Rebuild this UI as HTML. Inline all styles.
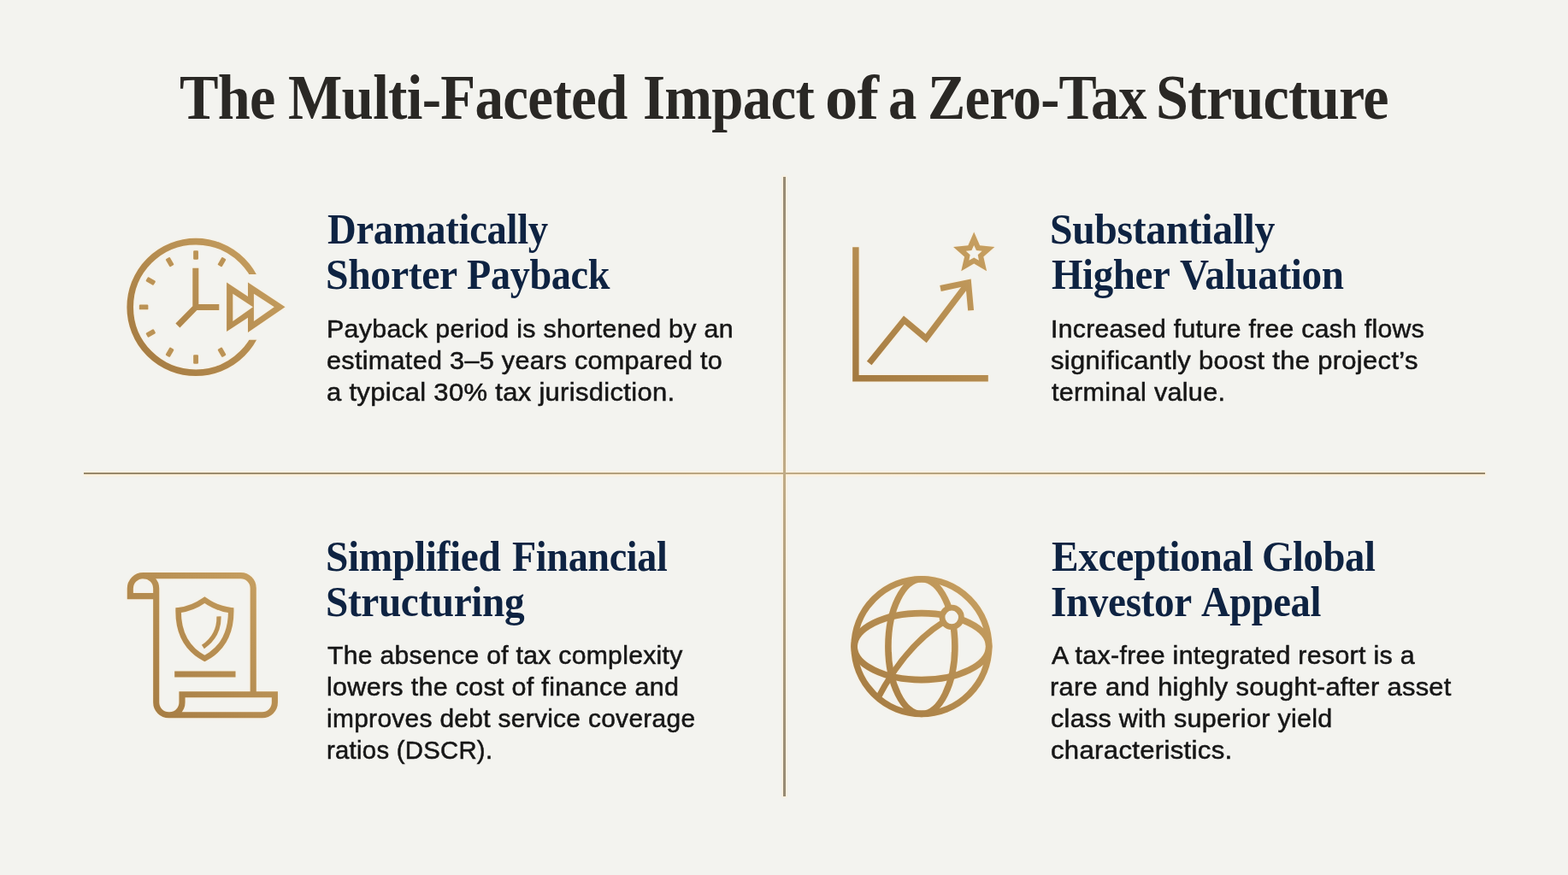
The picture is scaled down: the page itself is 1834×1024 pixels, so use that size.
<!DOCTYPE html>
<html lang="en">
<head>
<meta charset="utf-8">
<title>The Multi-Faceted Impact of a Zero-Tax Structure</title>
<style>
html,body{margin:0;padding:0;background:#f3f3ef}
body{width:1834px;height:1024px;overflow:hidden;position:relative;background:#f3f3ef}
.t{position:absolute;left:0;width:1834px;white-space:nowrap;line-height:1;margin:0;padding:0}
.t span{position:absolute;top:0;transform-origin:0 0;white-space:nowrap}
.ktitle{font-family:"Liberation Serif", serif;font-weight:bold;font-size:74px;height:74px;letter-spacing:-0.8px;color:#2a2825;}
.kh{font-family:"Liberation Serif", serif;font-weight:bold;font-size:51.5px;height:51.5px;letter-spacing:-0.4px;color:#0e2342;}
.kb{font-family:"Liberation Sans", sans-serif;font-weight:normal;font-size:30px;height:30px;letter-spacing:0.3px;color:#161616;-webkit-text-stroke:0.55px #161616;}
.vl{position:absolute;left:916.3px;top:206.8px;width:2.25px;height:725px;background:linear-gradient(to bottom,#968a74 0%,#ad9c7c 28%,#c0ab86 48%,#ad9c7c 72%,#968a74 100%);filter:blur(0.45px)}
.vg{position:absolute;left:914.9px;top:206px;width:5.1px;height:726.6px;background:rgba(255,238,210,0.9);filter:blur(0.9px)}
.hl{position:absolute;left:98.3px;top:553.35px;width:1638.5px;height:1.9px;background:linear-gradient(to right,#96876a 0%,#a39374 25%,#c0ab86 49%,#aa9a79 75%,#96876c 100%);filter:blur(0.45px)}
.hg{position:absolute;left:97.5px;top:551.9px;width:1640.1px;height:4.8px;background:rgba(255,238,210,0.9);filter:blur(0.9px)}
svg.ic{position:absolute;left:0;top:0;filter:drop-shadow(0 0 1px rgba(255,236,205,0.95))}
</style>
</head>
<body>
<div class="vg"></div>
<div class="hg"></div>
<div class="vl"></div>
<div class="hl"></div>
<svg class="ic" width="1834" height="1024" viewBox="0 0 1834 1024">
<defs>
<linearGradient id="g1" gradientUnits="userSpaceOnUse" x1="150" y1="440" x2="330" y2="280"><stop offset="0" stop-color="#a2783f"/><stop offset="1" stop-color="#c9a263"/></linearGradient>
<linearGradient id="g2" gradientUnits="userSpaceOnUse" x1="995" y1="450" x2="1165" y2="270"><stop offset="0" stop-color="#a2783f"/><stop offset="1" stop-color="#c9a263"/></linearGradient>
<linearGradient id="g3" gradientUnits="userSpaceOnUse" x1="148" y1="840" x2="326" y2="670"><stop offset="0" stop-color="#a2783f"/><stop offset="1" stop-color="#c9a263"/></linearGradient>
<linearGradient id="g4" gradientUnits="userSpaceOnUse" x1="995" y1="840" x2="1160" y2="675"><stop offset="0" stop-color="#a2783f"/><stop offset="1" stop-color="#c9a263"/></linearGradient>
<clipPath id="c1"><path clip-rule="evenodd" d="M140 270 H340 V450 H140 Z M229 321.1 V397.8 H340 V321.1 Z"/></clipPath>
<clipPath id="c4"><circle cx="1077.9" cy="756.6" r="80"/></clipPath>
</defs>
<g fill="none" stroke="url(#g1)">
<circle cx="229.05" cy="359.45" r="76.85" stroke-width="7.6" clip-path="url(#c1)"/>
<path d="M228.8 313.8 V359.6 H256.3 M228.8 359.6 L207.9 381" stroke-width="7" stroke-linejoin="miter"/>
</g>
<g fill="url(#g1)">
<rect x="226.15" y="293.25" width="5.8" height="10.5" rx="1.2" transform="rotate(0 229.05 359.45)"/>
<rect x="226.15" y="293.25" width="5.8" height="10.5" rx="1.2" transform="rotate(30 229.05 359.45)"/>
<rect x="226.15" y="293.25" width="5.8" height="10.5" rx="1.2" transform="rotate(150 229.05 359.45)"/>
<rect x="226.15" y="293.25" width="5.8" height="10.5" rx="1.2" transform="rotate(180 229.05 359.45)"/>
<rect x="226.15" y="293.25" width="5.8" height="10.5" rx="1.2" transform="rotate(210 229.05 359.45)"/>
<rect x="226.15" y="293.25" width="5.8" height="10.5" rx="1.2" transform="rotate(240 229.05 359.45)"/>
<rect x="226.15" y="293.25" width="5.8" height="10.5" rx="1.2" transform="rotate(270 229.05 359.45)"/>
<rect x="226.15" y="293.25" width="5.8" height="10.5" rx="1.2" transform="rotate(300 229.05 359.45)"/>
<rect x="226.15" y="293.25" width="5.8" height="10.5" rx="1.2" transform="rotate(330 229.05 359.45)"/>
<path fill-rule="evenodd" d="M265.1 330.5 L290 347 V330.5 L333.5 359.3 L290 389.1 V371.7 L265.1 388.1 Z M272.3 343.7 L295.9 359.3 L272.3 375.9 Z M296.9 343.7 L320.8 359.3 L296.9 375.9 Z"/>
</g>
<g fill="none" stroke="url(#g2)">
<path d="M1000.9 289.3 V442.8 H1155.8" stroke-width="7.4"/>
<path d="M1016.7 425 L1057.5 374.6 L1083.1 396.1 L1131.5 332.3" stroke-width="7.2"/>
<path d="M1100 337.5 L1132.6 330.7 L1135.6 363.2" stroke-width="6.9"/>
</g>
<path fill="url(#g2)" fill-rule="evenodd" d="M1139.20 271.40 L1146.07 287.35 L1163.36 288.95 L1150.31 300.41 L1154.13 317.35 L1139.20 308.48 L1124.27 317.35 L1128.09 300.41 L1115.04 288.95 L1132.33 287.35 Z M1139.20 286.90 L1141.99 292.96 L1148.62 293.74 L1143.72 298.27 L1145.02 304.81 L1139.20 301.55 L1133.38 304.81 L1134.68 298.27 L1129.78 293.74 L1136.41 292.96 Z"/>
<g fill="none" stroke="url(#g3)" stroke-width="7.1">
<path stroke-linejoin="miter" d="M182.7 697.6 H152.3 V688.8 A15.2 15.2 0 0 1 167.5 673.6 H281.6 A14.6 14.6 0 0 1 296.2 688.2 V812.8"/>
<path d="M167.5 673.6 A15.2 15.2 0 0 1 182.7 688.8 V822 A14.7 14.7 0 0 0 197.4 836.7 H306.7 A14.7 14.7 0 0 0 321.4 822 V812.8 H213 V822 A14.7 14.7 0 0 1 198.3 836.7"/>
<path d="M204.2 789 H275.5" stroke-width="7"/>
<path d="M239.4 702.2 Q254.4 712.8 270.2 714.2 C270.5 742 259.5 760 239.4 770.6 C219.3 760 208.3 742 208.6 714.2 Q224.4 712.8 239.4 702.2 Z" stroke-width="6.5" stroke-linejoin="miter"/>
<path d="M256 721.4 Q256.5 744 237.4 757" stroke-width="5.2"/>
</g>
<g fill="none" stroke="url(#g4)" stroke-width="7.6">
<circle cx="1077.9" cy="756.6" r="78.8"/>
<ellipse cx="1077.9" cy="756.6" rx="78.8" ry="39"/>
<ellipse cx="1077.9" cy="756.6" rx="39" ry="78.8"/>
<path d="M1103 728.2 Q1058.1 756.6 1025.5 819.5" stroke-width="7" clip-path="url(#c4)"/>
<circle cx="1113.2" cy="722.4" r="11.2" fill="#f3f3ef" stroke-width="6.8"/>
</g>
</svg>
<h1 class="t ktitle" style="top:77.21px"><span style="left:209.68px;transform:scaleX(0.9227)">The</span> <span style="left:336.89px;transform:scaleX(0.9066)">Multi-Faceted</span> <span style="left:751.69px;transform:scaleX(0.9041)">Impact</span> <span style="left:965.29px;transform:scaleX(1.0356)">of</span> <span style="left:1039.20px;transform:scaleX(0.9000)">a</span> <span style="left:1084.81px;transform:scaleX(0.8958)">Zero-Tax</span> <span style="left:1352.02px;transform:scaleX(0.9196)">Structure</span></h1>
<h2 class="t kh" style="top:241.60px"><span style="left:383.09px;transform:scaleX(0.9074)">Dramatically</span></h2>
<h2 class="t kh" style="top:294.50px"><span style="left:381.02px;transform:scaleX(0.9272)">Shorter</span> <span style="left:545.50px;transform:scaleX(0.8978)">Payback</span></h2>
<h2 class="t kh" style="top:241.60px"><span style="left:1227.62px;transform:scaleX(0.9263)">Substantially</span></h2>
<h2 class="t kh" style="top:294.50px"><span style="left:1229.89px;transform:scaleX(0.9107)">Higher</span> <span style="left:1380.10px;transform:scaleX(0.9158)">Valuation</span></h2>
<h2 class="t kh" style="top:624.80px"><span style="left:381.04px;transform:scaleX(0.9205)">Simplified</span> <span style="left:598.50px;transform:scaleX(0.8965)">Financial</span></h2>
<h2 class="t kh" style="top:677.80px"><span style="left:381.05px;transform:scaleX(0.9176)">Structuring</span></h2>
<h2 class="t kh" style="top:624.80px"><span style="left:1229.88px;transform:scaleX(0.9204)">Exceptional</span> <span style="left:1476.29px;transform:scaleX(0.9056)">Global</span></h2>
<h2 class="t kh" style="top:677.80px"><span style="left:1229.17px;transform:scaleX(0.9158)">Investor</span> <span style="left:1404.80px;transform:scaleX(0.9039)">Appeal</span></h2>
<p class="t kb" style="top:369.65px"><span style="left:382.18px;transform:scaleX(1.0122)">Payback period is shortened by an</span></p>
<p class="t kb" style="top:406.85px"><span style="left:382.38px;transform:scaleX(1.0190)">estimated 3–5 years compared to</span></p>
<p class="t kb" style="top:443.85px"><span style="left:382.17px;transform:scaleX(1.0327)">a typical 30% tax jurisdiction.</span></p>
<p class="t kb" style="top:369.65px"><span style="left:1228.89px;transform:scaleX(1.0051)">Increased future free cash flows</span></p>
<p class="t kb" style="top:406.85px"><span style="left:1228.97px;transform:scaleX(1.0324)">significantly boost the project’s</span></p>
<p class="t kb" style="top:443.85px"><span style="left:1230.00px;transform:scaleX(1.0183)">terminal value.</span></p>
<p class="t kb" style="top:751.85px"><span style="left:382.60px;transform:scaleX(1.0041)">The absence of tax complexity</span></p>
<p class="t kb" style="top:788.75px"><span style="left:381.57px;transform:scaleX(1.0157)">lowers the cost of finance and</span></p>
<p class="t kb" style="top:825.65px"><span style="left:381.61px;transform:scaleX(0.9974)">improves debt service coverage</span></p>
<p class="t kb" style="top:862.65px"><span style="left:382.05px;transform:scaleX(0.9754)">ratios (DSCR).</span></p>
<p class="t kb" style="top:751.85px"><span style="left:1230.00px;transform:scaleX(1.0114)">A tax-free integrated resort is a</span></p>
<p class="t kb" style="top:788.75px"><span style="left:1228.25px;transform:scaleX(1.0275)">rare and highly sought-after asset</span></p>
<p class="t kb" style="top:825.65px"><span style="left:1228.98px;transform:scaleX(1.0165)">class with superior yield</span></p>
<p class="t kb" style="top:862.65px"><span style="left:1228.96px;transform:scaleX(1.0373)">characteristics.</span></p>
</body>
</html>
